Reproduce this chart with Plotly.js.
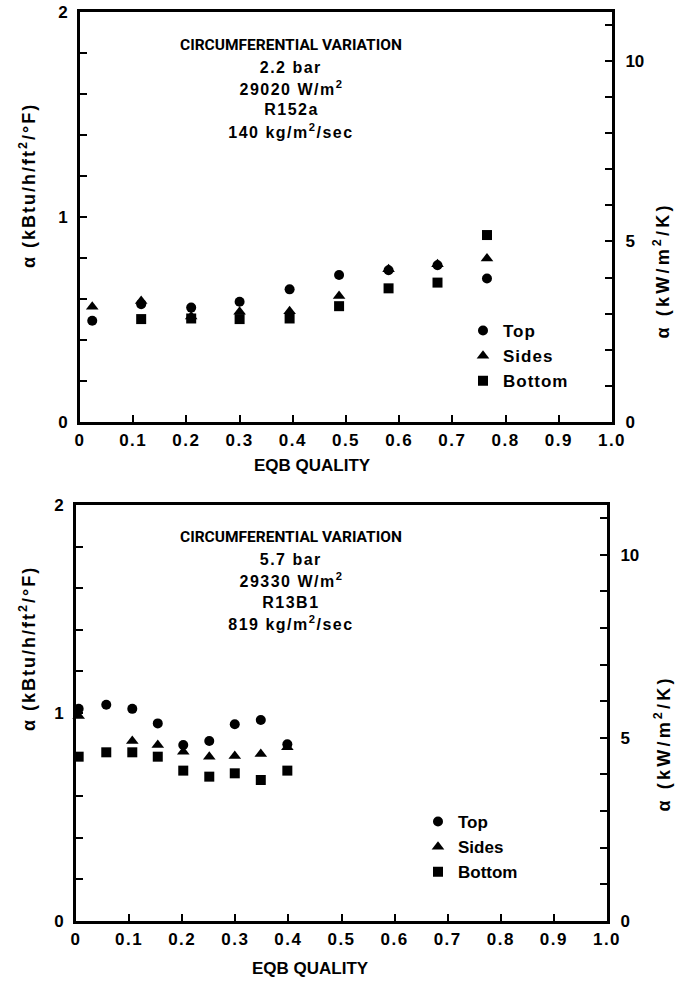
<!DOCTYPE html>
<html><head><meta charset="utf-8">
<script src="https://cdn.plot.ly/plotly-3.0.1.min.js"></script>
<style>
body{margin:0;background:#fff}
.xtick text, .x2tick text {letter-spacing:1.5px}
.legendtext {letter-spacing:1px}
.annotation[data-index="1"] text, .annotation[data-index="2"] text, .annotation[data-index="3"] text, .annotation[data-index="4"] text,
.annotation[data-index="6"] text, .annotation[data-index="7"] text, .annotation[data-index="8"] text, .annotation[data-index="9"] text {letter-spacing:1.5px}
.annotation[data-index="12"] text, .annotation[data-index="13"] text {letter-spacing:2px}
.annotation[data-index="14"] text, .annotation[data-index="15"] text {letter-spacing:3.2px}
</style>
</head><body><div id="chart" style="width:675px;height:981px"></div>
<script>
// ---- data: upper panel (R152a, 2.2 bar) ----
const upperQualityTop = [0.023, 0.115, 0.209, 0.300, 0.394, 0.487, 0.580, 0.672, 0.765];
const upperAlphaTop = [0.494, 0.575, 0.558, 0.587, 0.647, 0.717, 0.740, 0.765, 0.700];
const upperQualitySides = [0.023, 0.115, 0.209, 0.300, 0.394, 0.487, 0.580, 0.672, 0.765];
const upperAlphaSides = [0.562, 0.590, 0.515, 0.538, 0.540, 0.615, 0.745, 0.770, 0.798];
const upperQualityBottom = [0.115, 0.209, 0.300, 0.394, 0.487, 0.580, 0.672, 0.765];
const upperAlphaBottom = [0.502, 0.505, 0.502, 0.505, 0.565, 0.652, 0.680, 0.912];

// ---- data: lower panel (R13B1, 5.7 bar) ----
const lowerQualityTop = [0.005, 0.057, 0.106, 0.154, 0.202, 0.251, 0.299, 0.348, 0.398];
const lowerAlphaTop = [1.020, 1.040, 1.020, 0.950, 0.846, 0.865, 0.946, 0.966, 0.850];
const lowerQualitySides = [0.005, 0.106, 0.154, 0.202, 0.251, 0.299, 0.348, 0.398];
const lowerAlphaSides = [0.985, 0.865, 0.846, 0.814, 0.790, 0.793, 0.803, 0.835];
const lowerQualityBottom = [0.005, 0.057, 0.106, 0.154, 0.202, 0.251, 0.299, 0.348, 0.398];
const lowerAlphaBottom = [0.790, 0.811, 0.811, 0.790, 0.723, 0.694, 0.710, 0.678, 0.723];

// ---- labels ----
const seriesNames = ['Top', 'Sides', 'Bottom'];
const xTickVals = [0, 0.1, 0.2, 0.3, 0.4, 0.5, 0.6, 0.7, 0.8, 0.9, 1.0];
const xTickText = ['0', '0.1', '0.2', '0.3', '0.4', '0.5', '0.6', '0.7', '0.8', '0.9', '1.0'];
const upperInfo = ['CIRCUMFERENTIAL VARIATION', '2.2 bar', '29020 W/m<sup>2</sup>', 'R152a', '140 kg/m<sup>2</sup>/sec'];
const lowerInfo = ['CIRCUMFERENTIAL VARIATION', '5.7 bar', '29330 W/m<sup>2</sup>', 'R13B1', '819 kg/m<sup>2</sup>/sec'];
const xTitle = 'EQB QUALITY';
const yLeftTitle = 'α (kBtu/h/ft<sup>2</sup>/°F)';
const yRightTitle = 'α (kW/m<sup>2</sup>/K)';
const conv = 5.678; // kBtu/h/ft2/F -> kW/m2/K

const FONT = 'Liberation Sans, Arial, sans-serif';
const HEAD = 'Roboto, Liberation Sans, sans-serif';
const W = 675, H = 981;
const px = v => v / W, py = v => 1 - v / H;
const symbols = ['circle', 'triangle-up', 'square'];
const sizes = [10, 11, 10];

function mk(x, y, i, xa, ya, leg) {
  return {x: x, y: y, type: 'scatter', mode: 'markers', name: seriesNames[i],
    xaxis: xa, yaxis: ya, legend: leg, cliponaxis: false,
    marker: {symbol: symbols[i], size: sizes[i], color: '#000'}};
}
const traces = [
  mk(upperQualityTop, upperAlphaTop, 0, 'x', 'y', 'legend'),
  mk(upperQualitySides, upperAlphaSides, 1, 'x', 'y', 'legend'),
  mk(upperQualityBottom, upperAlphaBottom, 2, 'x', 'y', 'legend'),
  mk(lowerQualityTop, lowerAlphaTop, 0, 'x2', 'y3', 'legend2'),
  mk(lowerQualitySides, lowerAlphaSides, 1, 'x2', 'y3', 'legend2'),
  mk(lowerQualityBottom, lowerAlphaBottom, 2, 'x2', 'y3', 'legend2'),
  // empty traces so the secondary (kW/m2/K) axes are drawn
  {x: [], y: [], type: 'scatter', mode: 'markers', xaxis: 'x', yaxis: 'y2', showlegend: false},
  {x: [], y: [], type: 'scatter', mode: 'markers', xaxis: 'x2', yaxis: 'y4', showlegend: false}
];

const tickFont = {family: FONT, size: 17, color: '#000', weight: 'bold'};
function xax(dom, anchor) {
  return {domain: dom, anchor: anchor, range: [0, 1], tickmode: 'array', tickvals: xTickVals, ticktext: xTickText,
    ticks: 'inside', ticklen: 7, tickwidth: 2, tickcolor: '#000', showline: true, linewidth: 3, linecolor: '#000',
    mirror: true, showgrid: false, zeroline: false, tickfont: tickFont, ticklabelstandoff: 1, fixedrange: true};
}
function yleft(dom, anchor) {
  return {domain: dom, anchor: anchor, range: [0, 2], tickmode: 'linear', tick0: 0, dtick: 1,
    ticks: 'inside', ticklen: 7, tickwidth: 2, tickcolor: '#000', showline: true, linewidth: 3, linecolor: '#000',
    minor: {tickmode: 'linear', tick0: 0, dtick: 0.2, ticks: 'inside', ticklen: 7, tickwidth: 2, tickcolor: '#000', showgrid: false},
    showgrid: false, zeroline: false, tickfont: tickFont, ticklabelstandoff: 6, fixedrange: true};
}
function yright(over, anchor) {
  return {overlaying: over, anchor: anchor, side: 'right', range: [0, 2 * conv], tickmode: 'linear', tick0: 0, dtick: 5,
    ticks: 'inside', ticklen: 7, tickwidth: 2, tickcolor: '#000', showline: true, linewidth: 3, linecolor: '#000',
    minor: {tickmode: 'linear', tick0: 0, dtick: 1, ticks: 'inside', ticklen: 7, tickwidth: 2, tickcolor: '#000', showgrid: false},
    showgrid: false, zeroline: false, tickfont: tickFont, ticklabelstandoff: 7, fixedrange: true};
}

const annFont = {family: FONT, size: 16, color: '#000', weight: 'bold'};
const headFont = {family: HEAD, size: 15.5, color: '#000', weight: 'bold'};
const titleFont = {family: FONT, size: 17, color: '#000', weight: 'bold'};
const yTitleFont = {family: FONT, size: 18, color: '#000', weight: 'bold'};
const annotations = [];
const upperY = [45, 67, 88, 110, 131];
const lowerY = [537, 559, 580, 602, 623];
upperInfo.forEach((t, i) => annotations.push({xref: 'paper', yref: 'paper', x: px(291), y: py(upperY[i]),
  xanchor: 'center', yanchor: 'middle', text: t, showarrow: false, font: i === 0 ? headFont : annFont}));
lowerInfo.forEach((t, i) => annotations.push({xref: 'paper', yref: 'paper', x: px(291), y: py(lowerY[i]),
  xanchor: 'center', yanchor: 'middle', text: t, showarrow: false, font: i === 0 ? headFont : annFont}));
[[312, 465], [310, 968]].forEach(p => annotations.push({xref: 'paper', yref: 'paper', x: px(p[0]), y: py(p[1]),
  xanchor: 'center', yanchor: 'middle', text: xTitle, showarrow: false, font: titleFont}));
[[27, 186], [27, 649]].forEach(p => annotations.push({xref: 'paper', yref: 'paper', x: px(p[0]), y: py(p[1]),
  xanchor: 'center', yanchor: 'middle', text: yLeftTitle, textangle: -90, showarrow: false, font: yTitleFont}));
[[662, 271], [662, 744]].forEach(p => annotations.push({xref: 'paper', yref: 'paper', x: px(p[0]), y: py(p[1]),
  xanchor: 'center', yanchor: 'middle', text: yRightTitle, textangle: -90, showarrow: false, font: yTitleFont}));

const legFont = {family: FONT, size: 17, color: '#000', weight: 'bold'};
const layout = {
  width: W, height: H, margin: {l: 0, r: 0, t: 0, b: 0},
  paper_bgcolor: '#fff', plot_bgcolor: 'rgba(0,0,0,0)',
  xaxis: xax([px(80), px(612)], 'y'),
  yaxis: yleft([py(422), py(12)], 'x'),
  yaxis2: yright('y', 'x'),
  xaxis2: xax([px(76), px(607)], 'y3'),
  yaxis3: yleft([py(921), py(505)], 'x2'),
  yaxis4: yright('y3', 'x2'),
  legend: {x: px(463), y: py(313), xanchor: 'left', yanchor: 'top', font: legFont, bgcolor: 'rgba(0,0,0,0)', itemwidth: 30, tracegroupgap: 0},
  legend2: {x: px(418), y: py(804), xanchor: 'left', yanchor: 'top', font: legFont, bgcolor: 'rgba(0,0,0,0)', itemwidth: 30, tracegroupgap: 0},
  showlegend: true,
  annotations: annotations
};
Plotly.newPlot('chart', traces, layout, {staticPlot: true, displayModeBar: false});
</script></body></html>
